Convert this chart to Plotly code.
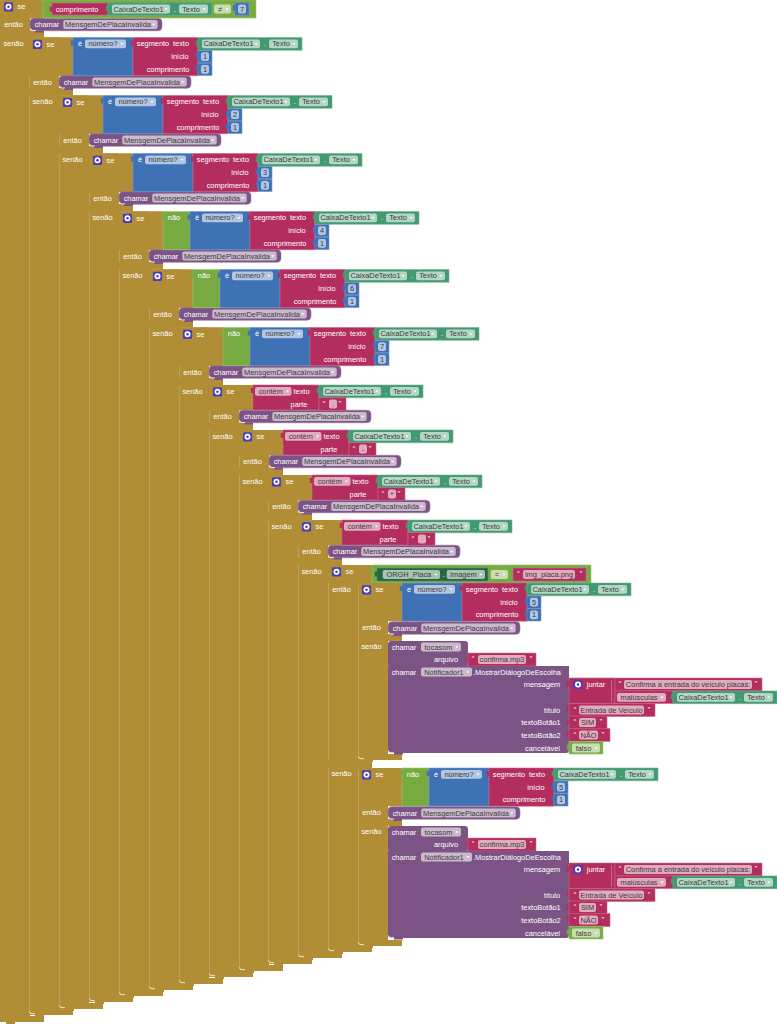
import plotly.graph_objects as go

# ---- block diagram content ----
IF_LEFT = [0, 29, 59, 89, 119, 149, 179, 209, 239, 268, 298, 328]
IF_TOP = [0, 37.5, 95.5, 153.5, 211.5, 269.5, 327.5, 385, 430, 475, 520, 565]
IF_THEN_ROW = [24.5, 82, 140, 198, 256, 314, 372, 416.5, 461.5, 506.5, 551.5]
IF_ELSE_ROW = [43, 101, 159, 217, 275, 333, 391, 436, 481, 526, 571]
IF_BOTTOM = [1022, 1015, 1009, 1002, 996, 990, 984, 977, 971, 964, 958, 952]
DIGIT_LEVELS = [1, 2, 3, 4, 5, 6]
DIGIT_VALUES = ["1", "2", "3", "4", "6", "7"]
DIGIT_NEGATED = [False, False, False, True, True, True]
CONTAINS_LEVELS = [7, 8, 9, 10]
CONTAINS_VALUES = [".", "-", "*", " "]
BRANCH_TOPS = [583, 768]
BRANCH_BOTTOMS = [760, 946]
BRANCH_NEGATED = [False, True]
BRANCH_DIGIT = "5"
CALL_NAME = "MensgemDePlacaInvalida"
TEXTBOX = "CaixaDeTexto1"
PROP = "Texto"
DIALOG_LABELS = ["mensagem", "título", "textoBotão1", "textoBotão2", "cancelável"]
DIALOG_TITLE = "Entrada de Veículo"
DIALOG_MESSAGE = "Confirma a entrada do veículo placas:"
BUTTONS = ["SIM", "NÃO"]

GOLD, GOLD_EDGE = "#B18E35", "#C4A866"
PURPLE, PINK, BLUE = "#7C5385", "#B32D5E", "#3F71B5"
LOGIC, GETTER, DARKGET = "#77AB41", "#439970", "#266643"
F_PURPLE, F_PINK, F_BLUE = "#CBBACE", "#E1ABBF", "#B2C6E1"
F_GREEN, F_LOGIC, F_DARK = "#B4D6C6", "#C9DDB3", "#A8C2B3"
FONT = "Liberation Sans"
FS = 7.4
TEXT_SHIFT = 0.7

shapes = []
white_x, white_y, white_t = [], [], []
dark_x, dark_y, dark_t = [], [], []


def rect(x0, x1, y0, y1, color, edge=None):
    shapes.append(dict(type="rect", xref="x", yref="y", x0=x0, x1=x1, y0=y0, y1=y1,
                       fillcolor=color, line=dict(width=0.6 if edge else 0, color=edge or color),
                       layer="below"))


def rrect(x0, x1, y0, y1, color, r=2, edge=None):
    p = (f"M{x0+r},{y0} L{x1-r},{y0} Q{x1},{y0} {x1},{y0+r} L{x1},{y1-r} Q{x1},{y1} {x1-r},{y1} "
         f"L{x0+r},{y1} Q{x0},{y1} {x0},{y1-r} L{x0},{y0+r} Q{x0},{y0} {x0+r},{y0} Z")
    shapes.append(dict(type="path", xref="x", yref="y", path=p, fillcolor=color,
                       line=dict(width=0.6 if edge else 0, color=edge or color), layer="below"))


def label(x, y, t):
    white_x.append(x); white_y.append(y + TEXT_SHIFT); white_t.append(t)


def dark(x, y, t):
    dark_x.append(x); dark_y.append(y + TEXT_SHIFT); dark_t.append(t)


def tab(x, y, color):
    rect(x - 2.2, x + 0.2, y - 2.5, y + 2.5, color)


def field(x0, x1, cy, t, fill, arrow=True):
    rrect(x0, x1, cy - 4.4, cy + 4.4, fill, 2)
    if arrow:
        a = x1 - 4
        shapes.append(dict(type="path", xref="x", yref="y", layer="below", fillcolor="#FFFFFF",
                           line=dict(width=0),
                           path=f"M{a-1.5},{cy-0.8} L{a+1.5},{cy-0.8} L{a},{cy+1.2} Z"))
        dark((x0 + x1 - 5) / 2, cy, t)
    else:
        dark((x0 + x1) / 2, cy, t)


def getter(x, cy):
    rect(x, x + 104, cy - 6.4, cy + 6.4, GETTER, "#6FB497")
    tab(x, cy - 1, GETTER)
    field(x + 4, x + 62, cy, TEXTBOX, F_GREEN)
    label(x + 67, cy, ".")
    field(x + 71, x + 100, cy, PROP, F_GREEN)


def icon(cx, cy):
    rrect(cx - 4.6, cx + 4.6, cy - 4.6, cy + 4.6, "#4A3FB4", 1.5)
    shapes.append(dict(type="circle", xref="x", yref="y", x0=cx - 3, x1=cx + 3, y0=cy - 3, y1=cy + 3,
                       fillcolor="#FFFFFF", line=dict(width=0), layer="below"))
    shapes.append(dict(type="circle", xref="x", yref="y", x0=cx - 1.3, x1=cx + 1.3, y0=cy - 1.3, y1=cy + 1.3,
                       fillcolor="#4A3FB4", line=dict(width=0), layer="below"))


def number(x, cy, d):
    rect(x, x + 14, cy - 6.2, cy + 6.2, BLUE, "#6F95CB")
    tab(x, cy - 1, BLUE)
    field(x + 3, x + 11, cy, d, F_BLUE, False)


def string_block(x0, x1, cy, t, fx0, fx1, q0, q1):
    rect(x0, x1, cy - 6.4, cy + 6.4, PINK, "#C9648A")
    label(q0, cy - 1, "“")
    field(fx0, fx1, cy, t, F_PINK, False)
    label(q1, cy - 1, "”")


def add_arc(x, y):
    shapes.append(dict(type="path", xref="x", yref="y", layer="below", fillcolor="rgba(0,0,0,0)",
                       line=dict(width=0.8, color="#FFFFFF"),
                       path=f"M{x+0.5},{y-2.5} Q{x+0.5},{y-0.3} {x+3},{y-0.3} L{x+6},{y-0.3}"))


def call(x, cy):
    rrect(x, x + 132, cy - 6.3, cy + 6.3, PURPLE, 4, "#9A7EA1")
    rect(x + 5, x + 14, cy + 6, cy + 8, PURPLE)
    label(x + 17, cy, "chamar")
    field(x + 33.3, x + 127.7, cy, CALL_NAME, F_PURPLE)
    add_arc(x, cy + 6.3)


def cond_digit(hx, top, d, negated):
    x = hx
    if negated:
        rect(hx, hx + 27, top, top + 38.2, LOGIC, "#9AC474")
        tab(hx, top + 5.5, LOGIC)
        label(hx + 11, top + 6.4, "não")
        x = hx + 27
    rect(x, x + 60, top, top + 38.2, BLUE, "#6F95CB")
    tab(x, top + 5.5, BLUE)
    label(x + 7, top + 6.2, "é")
    field(x + 12, x + 53, top + 6.4, "número?", F_BLUE)
    p = x + 60
    rect(p, p + 65, top, top + 38.2, PINK, "#C9648A")
    tab(p, top + 5.5, PINK)
    label(p + 20, top + 6.4, "segmento")
    label(p + 48, top + 6.4, "texto")
    label(p + 47, top + 19.2, "início")
    label(p + 35, top + 31.8, "comprimento")
    g = p + 65
    getter(g, top + 6.4)
    number(g, top + 19.2, d)
    number(g, top + 31.8, "1")


def cond_contains(hx, top, s):
    rect(hx, hx + 66, top, top + 25, PINK, "#C9648A")
    tab(hx, top + 5.5, PINK)
    field(hx + 2, hx + 38.5, top + 6.4, "contém", F_PINK)
    label(hx + 48.5, top + 6.4, "texto")
    label(hx + 46, top + 19, "parte")
    getter(hx + 66, top + 6.4)
    string_block(hx + 66, hx + 93, top + 19, s, hx + 76, hx + 84, hx + 71, hx + 87)


def gold_if(i, bottom=None):
    x, t = IF_LEFT[i], IF_TOP[i]
    b = IF_BOTTOM[i] if bottom is None else bottom
    rect(x, x + 30, t, b, GOLD)
    rect(x, x + 44, t, t + 14, GOLD)
    rect(x, x + 44, b - 6, b, GOLD)
    rect(x + 6, x + 15, b - 0.5, b + 2, GOLD)
    if i > 0:
        rect(x, x + 0.7, t + 2, b - 3, GOLD_EDGE)
        add_arc(x, b - 1)


def if_labels(x, top, then_y, else_y):
    icon(x + 8.5, top + 6.8)
    label(x + 21.5, top + 6.8, "se")
    label(x + 13.5, then_y, "então")
    label(x + 13.5, else_y, "senão")


def dialogue_set(o):
    # "tocasom" call
    rrect(388, 468, 641 + o, 667 + o, PURPLE, 3)
    label(404, 647 + o, "chamar")
    field(421, 461, 647 + o, "tocasom", F_PURPLE)
    label(446, 659.5 + o, "arquivo")
    tab(468, 659 + o, PINK)
    string_block(468, 536, 659.5 + o, "confirma.mp3", 478, 526, 473, 531)
    # dialog call
    rrect(388, 569, 666 + o, 753 + o, PURPLE, 3)
    rect(388, 569, 666 + o, 672 + o, PURPLE)
    rect(394, 403, 752.5 + o, 754.5 + o, PURPLE)
    add_arc(388, 753 + o)
    label(404, 672 + o, "chamar")
    field(421, 472, 672 + o, "Notificador1", F_PURPLE)
    label(517, 672 + o, ".MostrarDiálogoDeEscolha")
    row_x = [542, 552, 541, 541, 542.5]
    row_y = [684.5, 710, 722.5, 735, 748]
    for name, x, y in zip(DIALOG_LABELS, row_x, row_y):
        label(x, y + o, name)
    # join
    rect(569, 615, 678 + o, 703.5 + o, PINK, "#C9648A")
    tab(569, 684 + o, PINK)
    icon(578, 684.5 + o)
    label(596, 684.5 + o, "juntar")
    rect(611, 611.6, 680 + o, 702 + o, "#D98EAB")
    string_block(615, 762, 684.5 + o, DIALOG_MESSAGE, 624, 752, 620, 756)
    rect(615, 673, 691 + o, 703.5 + o, PINK, "#C9648A")
    field(617, 666, 697.3 + o, "maiúsculas", F_PINK)
    getter(673, 697.3 + o)
    # other arguments
    tab(569, 709 + o, PINK)
    string_block(569, 655, 710 + o, DIALOG_TITLE, 579, 644, 575, 649)
    tab(569, 722 + o, PINK)
    string_block(569, 607, 722.5 + o, BUTTONS[0], 579, 596, 575, 601)
    tab(569, 734 + o, PINK)
    string_block(569, 610, 735 + o, BUTTONS[1], 579, 598, 575, 603)
    rect(569, 603, 741.5 + o, 754 + o, LOGIC, "#9AC474")
    tab(569, 747 + o, LOGIC)
    field(572, 600, 748 + o, "falso", F_LOGIC)


# ---- outer if blocks ----
for i in range(len(IF_LEFT)):
    gold_if(i)
    x = IF_LEFT[i]
    if i < 11:
        then_y = IF_THEN_ROW[i]
        rect(x, x + 44, IF_TOP[i], then_y - 6, GOLD)
        rect(x, x + 44, then_y + 6, IF_TOP[i + 1], GOLD)
        if_labels(x, IF_TOP[i], then_y, IF_ELSE_ROW[i])
        call(x + 30, then_y)
    else:
        rect(x, x + 44, IF_TOP[i], 583, GOLD)
        rect(x, x + 44, 760, 768, GOLD)
        if_labels(x, IF_TOP[i], 589, 773)

# level 0 condition
rect(43, 256, 0, 18, LOGIC, "#9AC474")
tab(43, 6, LOGIC)
rect(52, 108, 3, 15, PINK, "#C9648A")
tab(52, 9, PINK)
label(77, 9, "comprimento")
getter(108, 9)
field(214, 231, 9, "≠", F_LOGIC)
number(235, 9, "7")

# digit conditions
for lvl, d, neg in zip(DIGIT_LEVELS, DIGIT_VALUES, DIGIT_NEGATED):
    cond_digit(IF_LEFT[lvl] + 44, IF_TOP[lvl], d, neg)

# contains conditions
for lvl, s in zip(CONTAINS_LEVELS, CONTAINS_VALUES):
    cond_contains(IF_LEFT[lvl] + 44, IF_TOP[lvl], s)

# level 11 comparison
rect(372, 591, 565, 583, LOGIC, "#9AC474")
tab(372, 571, LOGIC)
rect(377, 488, 568, 581, DARKGET, "#5F8D73")
tab(377, 574, DARKGET)
field(382.7, 440, 574.5, "ORGH_Placa", F_DARK)
label(443.5, 574.5, ".")
field(446.7, 485, 574.5, "Imagem", F_DARK)
field(490.7, 508, 574.5, "=", F_LOGIC)
string_block(513, 586, 574.5, "img_placa.png", 523, 575, 518.5, 581)

# the two inner branches
for idx, (t, b, neg) in enumerate(zip(BRANCH_TOPS, BRANCH_BOTTOMS, BRANCH_NEGATED)):
    x = 358
    rect(x, x + 30, t, b, GOLD)
    rect(x, x + 44, t, t + 38.2, GOLD)
    rect(x, x + 44, t + 51, t + 58, GOLD)
    rect(x, x + 44, b - 6, b, GOLD)
    rect(x + 6, x + 15, b - 0.5, b + 2, GOLD)
    rect(x, x + 0.7, t + 2, b - 3, GOLD_EDGE)
    add_arc(x, b - 1)
    o = 0 if idx == 0 else 185
    if_labels(x, t, 627 + o, 646.5 + o)
    cond_digit(x + 44, t, BRANCH_DIGIT, neg)
    call(x + 30, 628 + o)
    dialogue_set(o)

fig = go.Figure()
fig.add_trace(go.Scatter(x=white_x, y=white_y, text=white_t, mode="text", textposition="middle center",
                         textfont=dict(family=FONT, size=FS, color="#FFFFFF"),
                         hoverinfo="skip", showlegend=False))
fig.add_trace(go.Scatter(x=dark_x, y=dark_y, text=dark_t, mode="text", textposition="middle center",
                         textfont=dict(family=FONT, size=FS, color="#3A3A3A"),
                         hoverinfo="skip", showlegend=False))
fig.update_layout(
    width=777, height=1024, margin=dict(l=0, r=0, t=0, b=0),
    paper_bgcolor="#FFFFFF", plot_bgcolor="#FFFFFF", shapes=shapes, showlegend=False,
    xaxis=dict(range=[0, 777], visible=False, fixedrange=True),
    yaxis=dict(range=[1024, 0], visible=False, fixedrange=True),
)
fig.write_html("out.html", config=dict(displayModeBar=False),
               post_script="document.body.style.margin='0';document.documentElement.style.overflow='hidden';")
